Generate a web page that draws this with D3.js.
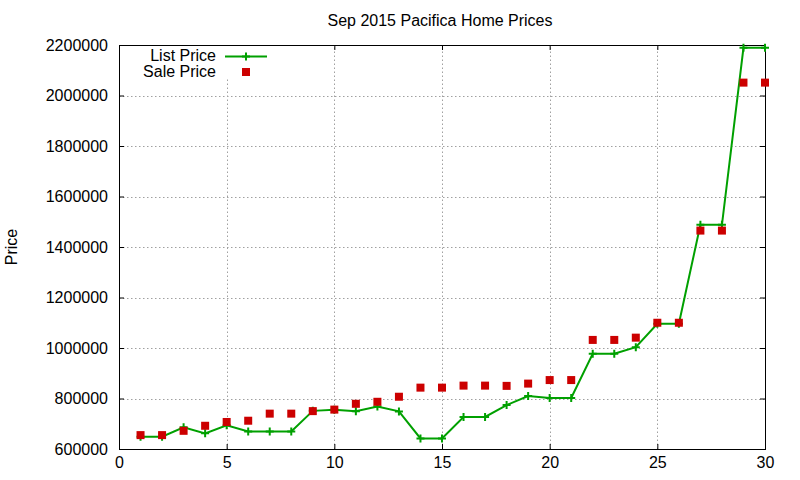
<!DOCTYPE html>
<html>
<head>
<meta charset="utf-8">
<script src="https://cdn.jsdelivr.net/npm/d3@7"></script>
<style>
  body { margin: 0; background: #fff; }
  svg text { font-family: "Liberation Sans", Arial, sans-serif; fill: #000; }
</style>
</head>
<body>
<div id="chart"></div>
<script>
// ========== ДАННЫЕ ==========
const chartTitle = 'Sep 2015 Pacifica Home Prices';
const days = [1,2,3,4,5,6,7,8,9,10,11,12,13,14,15,16,17,18,19,20,21,22,23,24,25,26,27,28,29,30];
const listPrices = [649000, 649000, 686000, 662000, 694000, 669000, 669000, 669000, 751000, 755000,
                    750000, 768000, 749000, 642000, 642000, 727000, 727000, 774000, 810000, 802000,
                    802000, 977000, 977000, 1003000, 1096000, 1096000, 1488000, 1488000, 2189000, 2189000];
const salePrices = [655000, 655000, 672000, 692000, 707000, 712000, 740000, 740000, 750000, 756000,
                    779000, 787000, 807000, 843000, 843000, 851000, 851000, 850000, 859000, 873000,
                    873000, 1032000, 1032000, 1041000, 1100000, 1100000, 1465000, 1465000, 2051000, 2051000];
const xTicks = [0, 5, 10, 15, 20, 25, 30];
const yTicks = [600000, 800000, 1000000, 1200000, 1400000, 1600000, 1800000, 2000000, 2200000];
const seriesNames = ['List Price', 'Sale Price'];

// ========== ГРАФИК ==========
function renderChart() {
    const width = 800, height = 480;
    const margin = { top: 45, right: 35, bottom: 31, left: 119 };
    const green = '#00a000', red = '#cc0000';

    const svg = d3.select('#chart').append('svg')
        .attr('width', width)
        .attr('height', height);

    const x = d3.scaleLinear().domain([0, 30]).range([margin.left, width - margin.right]);
    const y = d3.scaleLinear().domain([600000, 2200000]).range([height - margin.bottom, margin.top]);

    // сетка
    const grid = svg.append('g')
        .attr('stroke', '#a0a0a0')
        .attr('stroke-width', 1)
        .attr('stroke-dasharray', '1.5,2.5');
    grid.selectAll('line.gx').data(xTicks.slice(1, -1)).enter().append('line')
        .attr('x1', d => Math.round(x(d)) + 0.5).attr('x2', d => Math.round(x(d)) + 0.5)
        .attr('y1', y.range()[0]).attr('y2', y.range()[1]);
    grid.selectAll('line.gy').data(yTicks.slice(1, -1)).enter().append('line')
        .attr('x1', x.range()[0]).attr('x2', x.range()[1])
        .attr('y1', d => Math.round(y(d)) + 0.5).attr('y2', d => Math.round(y(d)) + 0.5);

    // оси (тики внутрь, как в gnuplot)
    const tickLen = 5;
    const axisBottom = svg.append('g').attr('transform', `translate(0,${y.range()[0]})`)
        .call(d3.axisBottom(x).tickValues(xTicks).tickSize(-tickLen).tickPadding(8));
    const axisTop = svg.append('g').attr('transform', `translate(0,${y.range()[1]})`)
        .call(d3.axisTop(x).tickValues(xTicks).tickSize(-tickLen).tickFormat(''));
    const axisLeft = svg.append('g').attr('transform', `translate(${x.range()[0]},0)`)
        .call(d3.axisLeft(y).tickValues(yTicks).tickSize(-tickLen).tickPadding(11).tickFormat(d3.format('d')));
    const axisRight = svg.append('g').attr('transform', `translate(${x.range()[1]},0)`)
        .call(d3.axisRight(y).tickValues(yTicks).tickSize(-tickLen).tickFormat(''));
    [axisBottom, axisTop, axisLeft, axisRight].forEach(a => {
        a.select('.domain').remove();
        a.selectAll('line').attr('stroke', '#000');
        a.selectAll('text').attr('font-size', '16px')
            .attr('font-family', '"Liberation Sans", Arial, sans-serif').attr('fill', '#000');
    });

    svg.append('rect')
        .attr('x', x.range()[0] + 0.5).attr('y', y.range()[1] + 0.5)
        .attr('width', x.range()[1] - x.range()[0])
        .attr('height', y.range()[0] - y.range()[1])
        .attr('fill', 'none').attr('stroke', '#000').attr('stroke-width', 1);

    // заголовок и подпись оси
    svg.append('text')
        .attr('x', 440).attr('y', 26)
        .attr('text-anchor', 'middle')
        .attr('font-size', '16px')
        .text(chartTitle);
    svg.append('text')
        .attr('transform', 'translate(17,247) rotate(-90)')
        .attr('text-anchor', 'middle')
        .attr('font-size', '16px')
        .text('Price');

    // List Price — линия с маркерами "+"
    const line = d3.line().x((d, i) => x(days[i])).y(d => y(d));
    svg.append('path')
        .datum(listPrices)
        .attr('d', line)
        .attr('fill', 'none')
        .attr('stroke', green)
        .attr('stroke-width', 2);
    const plus = d3.symbol().type(d3.symbolCross);
    svg.append('g').selectAll('path')
        .data(listPrices)
        .enter().append('path')
        .attr('d', 'M-4,0H4M0,-4V4')
        .attr('transform', (d, i) => `translate(${x(days[i])},${y(d)})`)
        .attr('stroke', green)
        .attr('stroke-width', 2);

    // Sale Price — квадраты
    svg.append('g').selectAll('rect')
        .data(salePrices)
        .enter().append('rect')
        .attr('x', (d, i) => x(days[i]) - 4)
        .attr('y', d => y(d) - 4)
        .attr('width', 8).attr('height', 8)
        .attr('fill', red);

    // легенда
    const legend = svg.append('g');
    legend.append('rect')
        .attr('x', 140).attr('y', 46).attr('width', 135).attr('height', 33)
        .attr('fill', '#fff');
    legend.append('text').attr('x', 216).attr('y', 61).attr('text-anchor', 'end')
        .attr('font-size', '16px').text(seriesNames[0]);
    legend.append('line').attr('x1', 225).attr('x2', 267).attr('y1', 56.5).attr('y2', 56.5)
        .attr('stroke', green).attr('stroke-width', 2);
    legend.append('path').attr('d', 'M-4,0H4M0,-4V4')
        .attr('transform', 'translate(246,56.5)')
        .attr('stroke', green).attr('stroke-width', 2);
    legend.append('text').attr('x', 216).attr('y', 77).attr('text-anchor', 'end')
        .attr('font-size', '16px').text(seriesNames[1]);
    legend.append('rect').attr('x', 242).attr('y', 68).attr('width', 8).attr('height', 8)
        .attr('fill', red);
}

renderChart();
</script>
</body>
</html>
